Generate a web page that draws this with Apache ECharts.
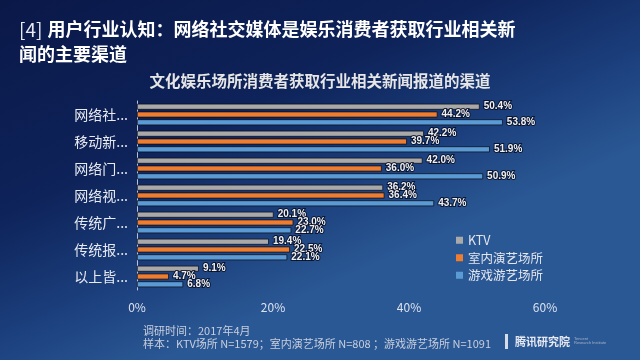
<!DOCTYPE html>
<html><head><meta charset="utf-8">
<script src="https://cdn.jsdelivr.net/npm/echarts@6/dist/echarts.min.js"></script>
<style>html,body{margin:0;padding:0;background:#0b1a4c}#c{width:640px;height:360px}</style>
</head><body><div id="c"></div>
<script>
var categories = ['网络社...', '移动新...', '网络门...', '网络视...', '传统广...', '传统报...', '以上皆...'];
var seriesNames = ['KTV', '室内演艺场所', '游戏游艺场所'];
var ktv = [50.4, 42.2, 42.0, 36.2, 20.1, 19.4, 9.1];
var indoor = [44.2, 39.7, 36.0, 36.4, 23.0, 22.5, 4.7];
var games = [53.8, 51.9, 50.9, 43.7, 22.7, 22.1, 6.8];
var xTicks = [0, 20, 40, 60];
var colors = ['#A9A9A9', '#ED7D31', '#5B9BD5'];
var values = [ktv, indoor, games];

var font = '"Noto Sans CJK SC", "Noto Sans", sans-serif';
var chart = echarts.init(document.getElementById('c'));
var series = seriesNames.map(function (n, i) {
  return {
    name: n, type: 'bar', data: values[i], barWidth: 6, barGap: '30%',
    itemStyle: { color: colors[i], borderColor: 'rgba(10,10,20,0.9)', borderWidth: 0.8 },
    label: {
      show: true, position: 'right', distance: 4, formatter: function (p) { return p.value.toFixed(1) + '%'; },
      color: '#f0f0f0', fontSize: 10, fontWeight: 'bold', fontFamily: 'Arial, "Liberation Sans", sans-serif',
      textBorderColor: 'rgba(5,10,30,0.8)', textBorderWidth: 2
    }
  };
});
chart.setOption({
  backgroundColor: new echarts.graphic.LinearGradient(0, 0, 0.25, 1, [
    { offset: 0, color: '#0a1848' },
    { offset: 0.5, color: '#0e235a' },
    { offset: 0.78, color: '#1b3f7c' },
    { offset: 1, color: '#2a5894' }
  ]),
  animation: false,
  title: [{
    left: 14, top: 12,
    text: '{a|[4]} {b|用户行业认知：网络社交媒体是娱乐消费者获取行业相关新}\n{b|闻的主要渠道}',
    textStyle: {
      rich: {
        a: { fontSize: 19, color: '#e8eaf2', fontFamily: font, fontWeight: 'normal', lineHeight: 25 },
        b: { fontSize: 18, color: '#ffffff', fontFamily: font, fontWeight: 'bold', lineHeight: 25 }
      }
    }
  }, {
    left: 'center', top: 68,
    text: '文化娱乐场所消费者获取行业相关新闻报道的渠道',
    textStyle: { fontSize: 15.5, color: '#e6e6e6', fontFamily: font, fontWeight: 'bold' }
  }],
  legend: {
    orient: 'vertical', left: 451, top: 229, itemWidth: 7, itemHeight: 7, itemGap: 5,
    icon: 'rect', data: seriesNames, itemStyle: { borderWidth: 0 },
    textStyle: { color: '#e4e6ee', fontSize: 12.5, fontFamily: font }
  },
  grid: { left: 137, right: 95, top: 101, height: 189 },
  xAxis: {
    type: 'value', min: 0, max: 60, interval: 20,
    axisLabel: { color: '#dde2ee', fontSize: 12, margin: 11, fontFamily: font, formatter: function (v) { return xTicks.indexOf(v) >= 0 ? v + '%' : ''; } },
    splitLine: { show: false }, axisLine: { show: false }, axisTick: { show: false }
  },
  yAxis: {
    type: 'category', data: categories, inverse: true,
    axisLine: { show: true, lineStyle: { color: '#b8c2dc', width: 1 } },
    axisTick: { show: false },
    axisLabel: { color: '#e8eaf2', fontSize: 14, margin: 9, fontFamily: font }
  },
  series: series,
  graphic: [
    { type: 'text', left: 143, top: 325, style: { text: '调研时间：2017年4月', fill: '#c8cedd', fontSize: 11, fontFamily: font } },
    { type: 'text', left: 143, top: 338, style: { text: '样本：KTV场所 N=1579；室内演艺场所 N=808 ；游戏游艺场所 N=1091', fill: '#c8cedd', fontSize: 11, fontFamily: font } },
    { type: 'rect', left: 505, top: 334, shape: { width: 3, height: 15 }, style: { fill: '#d8dce8' } },
    { type: 'text', left: 515, top: 336, style: { text: '腾讯研究院', fill: '#e6e9f2', fontSize: 11, fontWeight: 'bold', fontFamily: font } },
    { type: 'text', left: 574, top: 337, style: { text: 'Tencent\nResearch Institute', fill: '#aab3c8', fontSize: 4, fontFamily: 'Arial' } }
  ]
});
</script></body></html>
